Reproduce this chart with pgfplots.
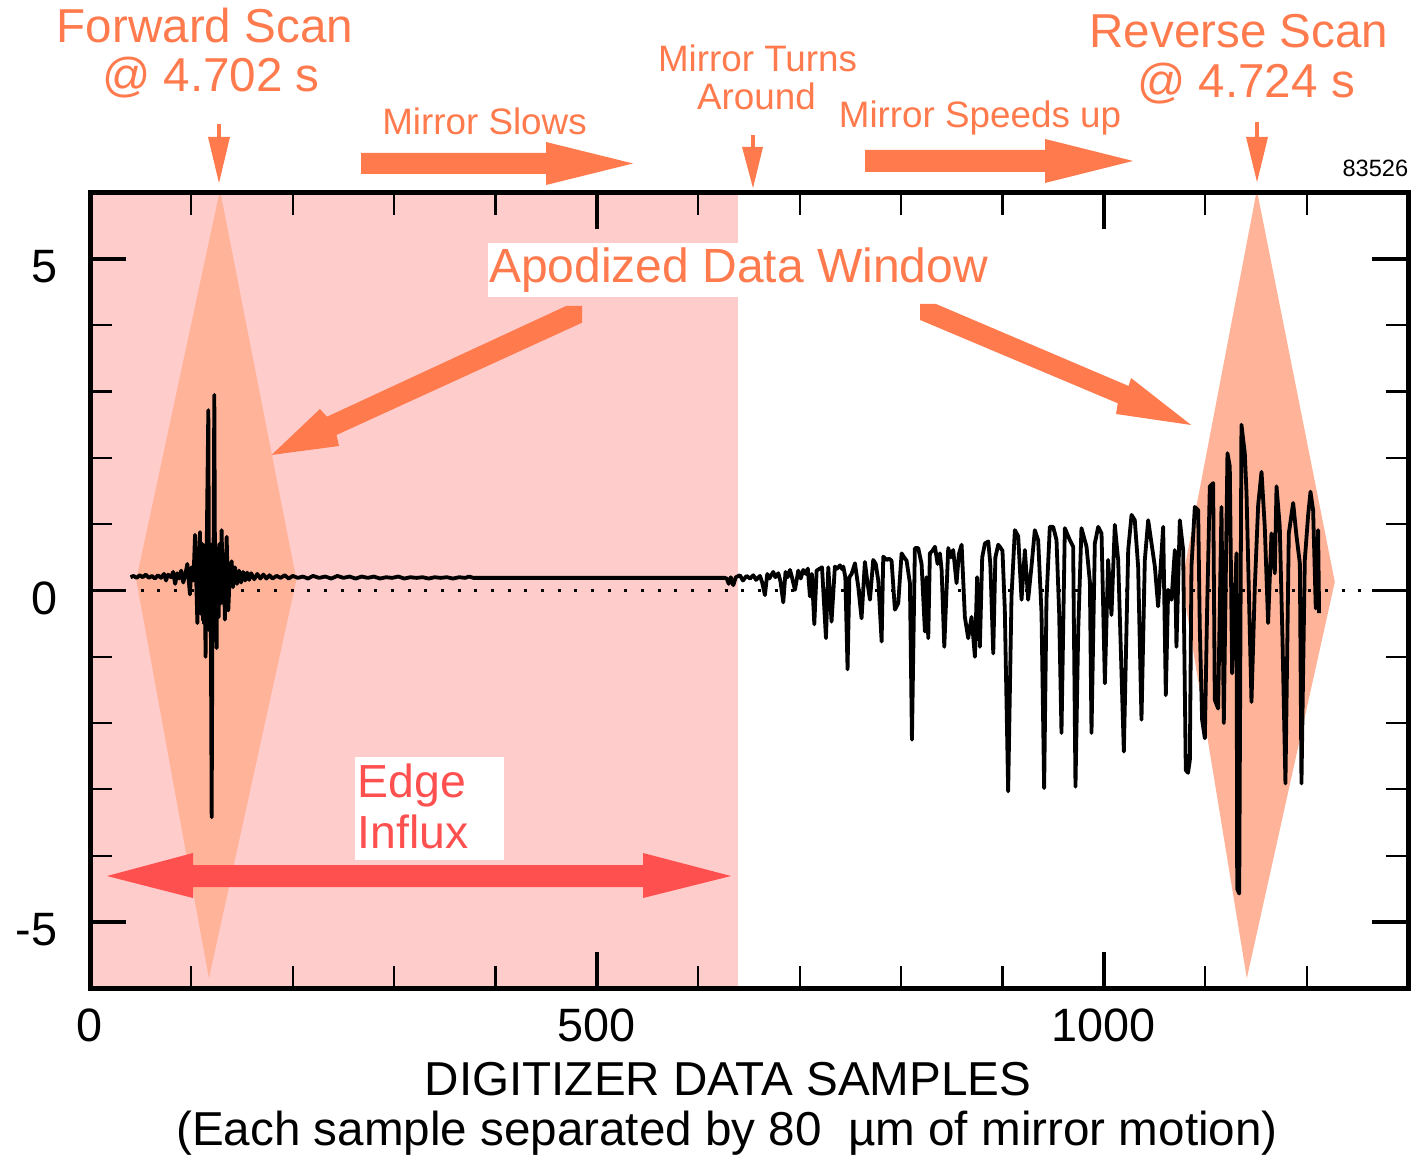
\documentclass[border=0pt]{standalone}
\usepackage{fontspec}
\setmainfont{Liberation Sans}
\usepackage{pgfplots}
\usepackage{pgfplotstable}
\pgfplotsset{compat=1.18}
\definecolor{pinkbg}{RGB}{255,204,204}
\definecolor{salmon}{RGB}{255,180,153}
\definecolor{orng}{RGB}{255,122,77}
\definecolor{redarr}{RGB}{255,80,80}

\pgfplotstableread{
x y
40 0.20
43 0.22
46 0.19
49 0.23
52 0.20
55 0.24
58 0.19
61 0.22
64 0.18
67 0.23
70 0.19
73 0.25
75 0.15
77 0.24
80 0.20
82 0.28
84 0.10
86 0.26
88 0.18
90 0.30
92 0.12
94 0.24
96 0.40
98.6 -0.06
100 0.35
102 0.15
103.6 0.84
105.9 -0.49
107 0.30
108.5 0.88
109.3 -0.35
110 0.55
110.6 -0.20
111 0.70
111.6 -0.45
112 0.65
112.5 -0.50
113 0.60
113.5 -0.30
114 -1.00
114.6 0.70
115 0.50
116.7 2.72
117.5 -0.60
118 0.60
118.5 0.70
119.2 -0.55
120 -3.42
121 0.50
121.6 -0.40
122.6 2.95
123.5 -0.50
124.2 0.65
124.9 -0.87
125.5 0.55
126 0.60
126.6 -0.35
127 -0.40
127.5 0.70
128 0.50
128.8 -0.20
129.8 0.91
131 0.00
132 0.55
133 -0.44
134.8 0.81
136.4 -0.30
138 0.30
139.7 0.44
141 0.05
143 0.35
145 0.10
147 0.30
149 0.12
151 0.28
153 0.15
155 0.27
157 0.16
159 0.26
162 0.17
165 0.25
168 0.18
171 0.24
174 0.18
177 0.23
180 0.18
184 0.22
188 0.19
192 0.23
196 0.18
200 0.22
205 0.19
210 0.21
215 0.18
220 0.22
226 0.19
232 0.21
238 0.18
244 0.22
250 0.19
256 0.21
262 0.18
268 0.21
274 0.19
280 0.21
286 0.18
292 0.20
298 0.19
304 0.21
310 0.18
316 0.20
322 0.19
328 0.20
334 0.18
340 0.20
346 0.19
352 0.20
358 0.18
364 0.20
370 0.19
374 0.21
378 0.19
626 0.19
628 0.18
630 0.10
632 0.20
634.5 0.08
637 0.20
641 0.23
644 0.15
647.6 0.22
651 0.18
654.2 0.23
657 0.16
660.8 0.22
663 0.12
665.7 -0.07
668 0.25
670 0.18
673.9 0.28
676 0.20
678.9 0.26
681 0.14
683.8 -0.18
686 0.28
688 0.20
690.4 0.31
692 0.22
695.3 0.01
698.6 0.30
701 0.18
703.5 0.31
706 0.25
708 0.33
710.1 -0.09
712 0.25
714.4 -0.51
716.7 0.30
719.9 0.33
722 0.35
725.9 -0.72
728.2 0.35
731.4 -0.47
734.7 0.36
737 0.33
739.7 0.38
742 0.32
743 0.36
745 0.20
747.2 -1.19
749 0.20
751.2 0.25
754.5 0.41
757.8 0.05
761 -0.42
764.3 0.43
767 0.10
769.3 -0.14
772.5 0.46
775 0.40
777.5 0.15
780.8 -0.77
782.4 0.51
785.7 0.46
788 0.48
790.6 0.45
793.9 -0.29
797.2 -0.19
800.5 0.56
803 0.50
805.4 0.45
808.7 0.11
810.7 -2.25
813.6 0.64
816.9 0.64
820.2 0.40
823.5 -0.62
825 0.20
826.8 -0.72
828.4 0.56
831 0.60
833.4 0.66
836 0.40
838.3 0.56
840 0.30
842.6 -0.85
846.5 0.64
849 0.50
851.4 0.61
854.7 0.11
857 0.55
859.7 0.69
862.9 -0.40
866.2 -0.72
869.5 -0.40
872.8 -1.00
875 0.20
877.7 -0.85
880 0.50
882.7 0.71
886 0.74
888 0.40
890.9 -0.95
893 0.50
895.8 0.69
897.4 0.66
900 0.60
902.3 -0.29
905.6 -3.03
908.9 -0.09
912.2 0.91
915.5 0.82
918.8 -0.14
922.1 0.61
925.3 -0.14
928.6 0.36
931.9 0.91
935.2 0.76
938.5 -0.34
941.1 -2.98
943.4 -0.14
946.7 0.96
950 0.96
953.3 0.76
955.9 -0.34
958.2 -2.15
961.5 0.94
966.4 0.76
969.7 0.66
972 -2.96
974.7 -0.60
977.9 0.94
982.9 0.66
986.2 0.13
987.8 -2.15
991.1 0.71
994.4 0.96
997.7 0.86
1001 -1.40
1004.2 0.46
1007.5 -0.37
1010.8 0.99
1014.1 0.46
1019.7 -2.43
1024 0.61
1027.3 1.14
1030.5 1.06
1033.8 0.36
1037.1 -1.95
1040.4 0.46
1043.7 1.06
1047 0.71
1050.3 0.36
1053.5 -0.24
1058.5 0.96
1061.1 -1.58
1063.4 0.01
1066.7 -0.14
1070 0.61
1071.6 -0.85
1074.9 1.06
1078.2 0.61
1080.8 -2.71
1083 -2.75
1084.8 -2.56
1086.4 0.36
1089.7 1.26
1093 1.21
1094.6 -0.55
1096.9 -1.95
1099.6 -2.23
1101.9 -0.24
1104.5 1.57
1107.8 1.62
1109.4 -1.65
1112.7 -1.78
1116 1.26
1118.3 -2.00
1121.9 2.07
1124.2 1.87
1126.5 -1.25
1130.8 0.56
1131.5 -4.50
1133.5 -4.57
1135.7 2.50
1139 2.07
1140.7 1.47
1145.6 -1.68
1148.9 0.06
1152.2 1.29
1155.5 1.79
1158.7 0.96
1162 -0.49
1165.3 0.86
1168.6 0.26
1170.3 1.57
1173.5 0.96
1176.2 -0.75
1179.1 -2.91
1182.4 0.86
1186.7 1.32
1190 0.82
1193.3 0.41
1194.9 -2.91
1198.2 0.46
1201.5 1.14
1203.8 1.49
1206.4 1.21
1209 -0.27
1211.3 0.91
1212.3 -0.34
}\signal

\begin{document}
\begin{tikzpicture}
\begin{axis}[
  at={(0pt,0pt)}, anchor=south west,
  scale only axis, width=329.5pt, height=198.9pt,
  xmin=0, xmax=1300, ymin=-6, ymax=6,
  axis on top,
  xtick={0,500,1000}, xticklabels={0,500,1000},
  minor xtick={100,200,300,400,600,700,800,900,1100,1200},
  ytick={-5,0,5}, yticklabels={-5,0,5},
  minor ytick={-4,-3,-2,-1,1,2,3,4},
  tick align=inside, tick pos=both,
  xticklabel pos=lower, yticklabel pos=left,
  major tick length=9pt, minor tick length=5.5pt,
  every major tick/.style={line width=0.9pt, black},
  every minor tick/.style={line width=0.55pt, black},
  axis line style={line width=1.25pt},
  /pgf/number format/assume math mode=true,
  ticklabel style={font=\fontsize{11.7}{14}\selectfont},
  xticklabel style={anchor=north, inner sep=0pt, yshift=-5pt},
  yticklabel style={anchor=east, inner sep=0pt, xshift=-8pt, yshift=-2pt},
]
% apodized window background
\addplot[draw=none, fill=pinkbg, forget plot] coordinates {(0,-6) (639,-6) (639,6) (0,6)};
% scan diamonds
\addplot[draw=none, fill=salmon, forget plot] coordinates {(128.2,6.04) (203.6,0.16) (117.3,-5.85) (45.6,0.16)};
\addplot[draw=none, fill=salmon, forget plot] coordinates {(1150.9,6.04) (1227.8,0.13) (1141,-5.85) (1077,0.13)};
% zero reference
\addplot[black, line width=0.75pt, dash pattern=on 0.75pt off 3.42pt, forget plot] coordinates {(50,0) (1300,0)};
% interferogram
\addplot[black, line width=0.95pt, line join=round, forget plot] table[x=x, y=y] {\signal};
\end{axis}

\begin{scope}[x=0.25pt, y=-0.25pt, xshift=-22.5pt, yshift=247.075pt]
% white boxes
\fill[white] (488,243) rectangle (990,297);
\fill[white] (355,757) rectangle (504,860);
% texts
\node[anchor=base, inner sep=0, text=orng, font=\fontsize{11.9}{14}\selectfont] at (205,43) {Forward Scan};
\node[anchor=base, inner sep=0, text=orng, font=\fontsize{11.9}{14}\selectfont] at (211,92) {@ 4.702 s};
\node[anchor=base, inner sep=0, text=orng, font=\fontsize{11.9}{14}\selectfont] at (1239,48) {Reverse Scan};
\node[anchor=base, inner sep=0, text=orng, font=\fontsize{11.9}{14}\selectfont] at (1246,98) {@ 4.724 s};
\node[anchor=base, inner sep=0, text=orng, font=\fontsize{9.2}{11}\selectfont] at (484.5,135) {Mirror Slows};
\node[anchor=base, inner sep=0, text=orng, font=\fontsize{9.2}{11}\selectfont] at (757.5,72) {Mirror Turns};
\node[anchor=base, inner sep=0, text=orng, font=\fontsize{9.2}{11}\selectfont] at (756.5,110) {Around};
\node[anchor=base, inner sep=0, text=orng, font=\fontsize{9.2}{11}\selectfont] at (980,128) {Mirror Speeds up};
\node[anchor=base east, inner sep=0, text=black, font=\fontsize{5.9}{7}\selectfont] at (1409,177) {83526};
\node[anchor=base, inner sep=0, text=orng, font=\fontsize{12}{14}\selectfont] at (738.5,283) {Apodized Data Window};
\node[anchor=base west, inner sep=0, text=redarr, font=\fontsize{11.6}{14}\selectfont] at (357,797) {Edge};
\node[anchor=base west, inner sep=0, text=redarr, font=\fontsize{11.6}{14}\selectfont] at (357,848) {Influx};
\node[anchor=base, inner sep=0, font=\fontsize{11.9}{14}\selectfont] at (728,1095) {DIGITIZER DATA SAMPLES};
\node[anchor=base, inner sep=0, font=\fontsize{11.9}{14}\selectfont] at (727,1145) {(Each sample separated by 80\ \ µm of mirror motion)};
% small down arrows
\fill[orng] (216.5,124) rectangle (220.5,137);
\fill[orng] (208,137) -- (230,137) -- (219,183) -- cycle;
\fill[orng] (750.5,135) rectangle (755,147);
\fill[orng] (742,147) -- (763,147) -- (753,188) -- cycle;
\fill[orng] (1254.5,122) rectangle (1259,137);
\fill[orng] (1246,137) -- (1268,137) -- (1257,182) -- cycle;
% horizontal arrows
\fill[orng] (361,153) -- (546,153) -- (546,142) -- (633,163.5) -- (546,185) -- (546,174) -- (361,174) -- cycle;
\fill[orng] (865,150) -- (1045,150) -- (1045,139) -- (1133,161) -- (1045,183) -- (1045,172) -- (865,172) -- cycle;
% apodized arrows
\fill[orng] (566.1,306) -- (582.1,306) -- (582.1,322.7) -- (336.5,435) -- (339,446) -- (271.5,455) -- (320,409) -- (327,416.7) -- cycle;
\fill[orng] (920.1,304) -- (936,304) -- (1128.6,386) -- (1131,378) -- (1191.1,425) -- (1116,414) -- (1117.8,403.3) -- (920.1,320) -- cycle;
% edge influx double arrow
\fill[redarr] (107,876) -- (193,853) -- (193,865) -- (643,865) -- (643,853) -- (731,876) -- (643,898) -- (643,887) -- (193,887) -- (193,898) -- cycle;
\pgfresetboundingbox
\path[use as bounding box] (0,0) rectangle (1419,1155);
\end{scope}
\end{tikzpicture}
\end{document}
